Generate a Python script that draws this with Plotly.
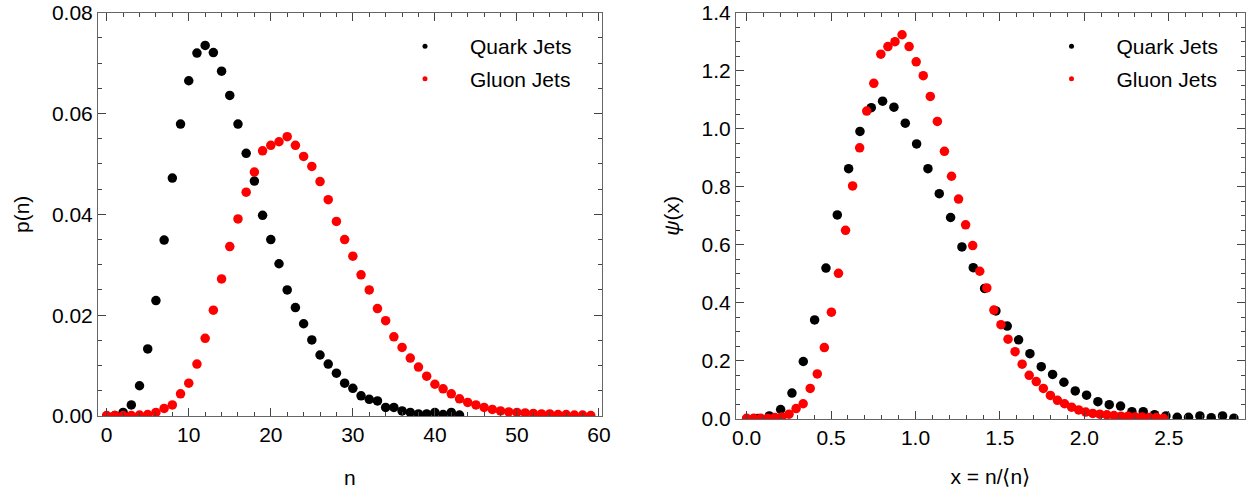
import plotly.graph_objects as go

# ---------------- data ----------------
n_quark = list(range(44))
p_quark = [0.0000, 0.0001, 0.0007, 0.0022, 0.0060, 0.0133, 0.0229, 0.0349, 0.0472, 0.0579,
           0.0665, 0.0720, 0.0735, 0.0721, 0.0684, 0.0636, 0.0579, 0.0521, 0.0466, 0.0398,
           0.0350, 0.0302, 0.0250, 0.0215, 0.0183, 0.0151, 0.0121, 0.0103, 0.0085, 0.0065,
           0.0055, 0.0040, 0.0033, 0.0030, 0.0017, 0.0017, 0.0010, 0.0007, 0.0004, 0.0004,
           0.0007, 0.0003, 0.0007, 0.0002]

n_gluon = list(range(60))
p_gluon = [0.0001, 0.0001, 0.0001, 0.0001, 0.0002, 0.0003, 0.0007, 0.0015, 0.0022, 0.0044,
           0.0065, 0.0103, 0.0154, 0.0210, 0.0272, 0.0336, 0.0391, 0.0444, 0.0484, 0.0526,
           0.0537, 0.0544, 0.0554, 0.0537, 0.0515, 0.0495, 0.0465, 0.0429, 0.0386, 0.0350,
           0.0317, 0.0280, 0.0250, 0.0213, 0.0189, 0.0157, 0.0136, 0.0115, 0.0097, 0.0079,
           0.0063, 0.0054, 0.0044, 0.0034, 0.0027, 0.0022, 0.0017, 0.0013, 0.0010, 0.0008,
           0.0007, 0.0006, 0.0005, 0.0004, 0.0004, 0.0003, 0.0003, 0.0002, 0.0002, 0.0001]

# mean multiplicities <n>
mean_n_quark = 14.9
mean_n_gluon = 23.9

# KNO-scaled versions: x = n/<n>, psi(x) = <n> p(n)
x_quark = [n / mean_n_quark for n in n_quark]
psi_quark = [p * mean_n_quark for p in p_quark]
x_gluon = [n / mean_n_gluon for n in n_gluon]
psi_gluon = [p * mean_n_gluon for p in p_gluon]

series_names = ["Quark Jets", "Gluon Jets"]

left_xticks = [0, 10, 20, 30, 40, 50, 60]
left_yticks = [0.00, 0.02, 0.04, 0.06, 0.08]
right_xticks = [0.0, 0.5, 1.0, 1.5, 2.0, 2.5]
right_yticks = [0.0, 0.2, 0.4, 0.6, 0.8, 1.0, 1.2, 1.4]

# ---------------- styling ----------------
FONT = "Liberation Sans, Arial, sans-serif"
FS = 21
QUARK_COLOR = "#000000"
GLUON_COLOR = "#ff0000"
MS = 9.5
W, H = 1248, 492

fig = go.Figure()

def add_pair(xq, yq, xg, yg, xa, ya, legend):
    fig.add_trace(go.Scatter(x=xq, y=yq, mode="markers", xaxis=xa, yaxis=ya,
                             marker=dict(color=QUARK_COLOR, size=MS), showlegend=False,
                             name=series_names[0]))
    fig.add_trace(go.Scatter(x=xg, y=yg, mode="markers", xaxis=xa, yaxis=ya,
                             marker=dict(color=GLUON_COLOR, size=MS), showlegend=False,
                             name=series_names[1]))
    # legend entries with small dots
    for name, col in zip(series_names, [QUARK_COLOR, GLUON_COLOR]):
        fig.add_trace(go.Scatter(x=[None], y=[None], mode="markers", xaxis=xa, yaxis=ya,
                                 marker=dict(color=col, size=5), name=name,
                                 legendgroup=legend + name,
                                 showlegend=True, legend=legend))

add_pair(n_quark, p_quark, n_gluon, p_gluon, "x", "y", "legend")
add_pair(x_quark, psi_quark, x_gluon, psi_gluon, "x2", "y2", "legend2")

axis_common = dict(
    showline=True, linecolor="#666666", linewidth=1, mirror="ticks",
    ticks="inside", ticklen=8, tickwidth=1, tickcolor="#444444",
    showgrid=False, zeroline=False,
    tickfont=dict(family=FONT, size=FS, color="#000"),
    title_font=dict(family=FONT, size=FS, color="#000"),
    automargin=False,
)

def px_x(p):
    return p / W

def px_y(p):
    return 1 - p / H

legend_common = dict(xanchor="left", yanchor="top", bgcolor="rgba(0,0,0,0)",
                     itemwidth=80, tracegroupgap=2.4,
                     font=dict(family=FONT, size=FS, color="#000"))

fig.update_layout(
    width=W, height=H,
    margin=dict(l=0, r=0, t=0, b=0),
    paper_bgcolor="white", plot_bgcolor="white",
    font=dict(family=FONT, size=FS, color="#000"),
    xaxis=dict(axis_common, domain=[px_x(98), px_x(601.7)], range=[-1.06, 60.33],
               tickmode="array", tickvals=left_xticks,
               minor=dict(ticks="inside", ticklen=4, tickcolor="#444444", dtick=2, tick0=0),
               title=dict(text="n", standoff=25), anchor="y"),
    yaxis=dict(axis_common, domain=[px_y(416), px_y(12.7)], range=[0, 0.08],
               tickmode="array", tickvals=left_yticks, tickformat=".2f",
               minor=dict(ticks="inside", ticklen=4, tickcolor="#444444", dtick=0.005, tick0=0),
               title=dict(text="p(n)", standoff=16), anchor="x"),
    xaxis2=dict(axis_common, domain=[px_x(736), px_x(1244.7)], range=[-0.063, 2.95],
                tickmode="array", tickvals=right_xticks, tickformat=".1f",
                minor=dict(ticks="inside", ticklen=4, tickcolor="#444444", dtick=0.1, tick0=0),
                title=dict(text="x = n/⟨n⟩", standoff=21), anchor="y2"),
    yaxis2=dict(axis_common, domain=[px_y(419), px_y(12.7)], range=[0, 1.4],
                tickmode="array", tickvals=right_yticks, tickformat=".1f",
                minor=dict(ticks="inside", ticklen=4, tickcolor="#444444", dtick=0.05, tick0=0),
                title=dict(text="<i>ψ</i>(x)", standoff=16), anchor="x2"),
    legend=dict(legend_common, x=px_x(380), y=px_y(26)),
    legend2=dict(legend_common, x=px_x(1026.5), y=px_y(26)),
)

fig.write_html("out.html", config={"displayModeBar": False},
               post_script="document.body.style.margin='0';document.body.style.overflow='hidden';")
